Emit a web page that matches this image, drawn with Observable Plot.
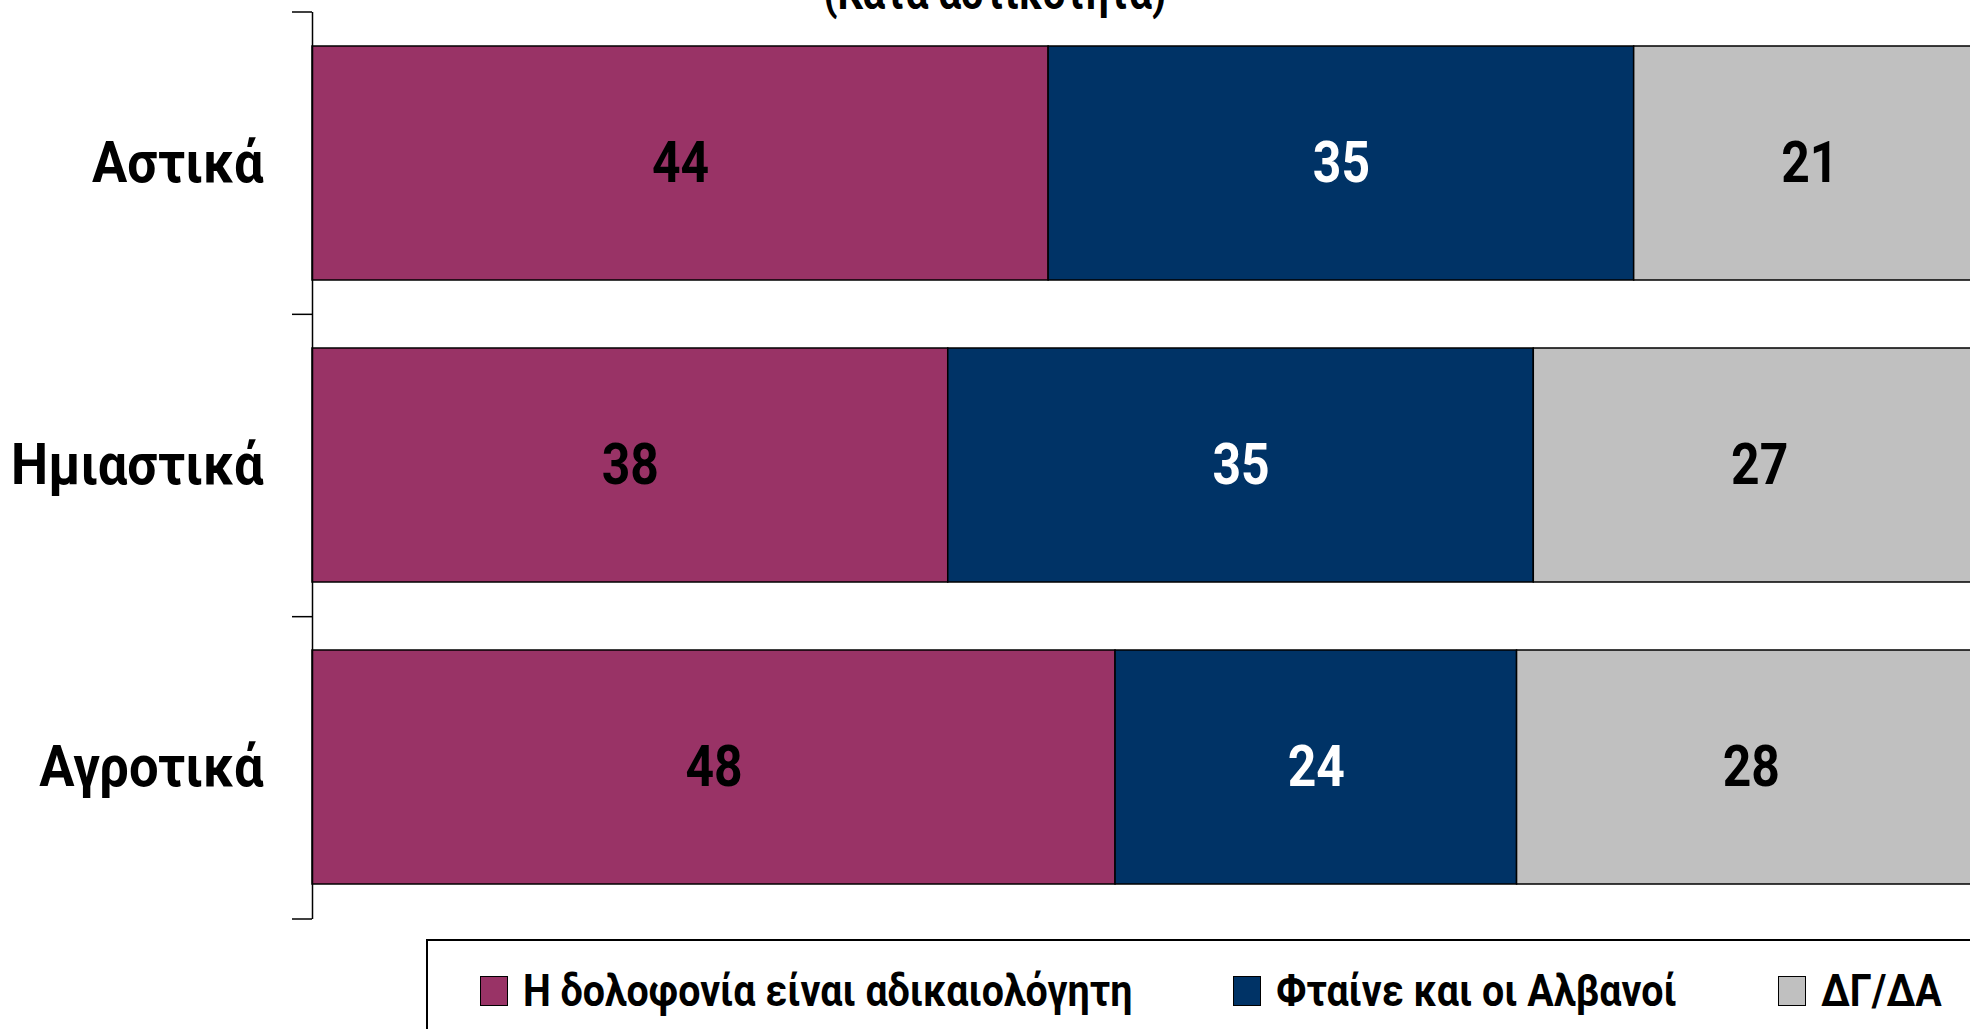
<!DOCTYPE html>
<html>
<head>
<meta charset="utf-8">
<script src="https://cdn.jsdelivr.net/npm/d3@7"></script>
<script src="https://cdn.jsdelivr.net/npm/@observablehq/plot@0.6"></script>
<style>
  html, body { margin: 0; padding: 0; background: #fff; overflow: hidden; width: 1970px; height: 1029px; }
  #wrap { position: relative; width: 1970px; height: 1029px; overflow: hidden; }
  .f { font-family: Roboto, "Liberation Sans", Arial, sans-serif; font-weight: 700; }
  #chart svg text { font-weight: 700 !important; }
  #title { position: absolute; top: -30px; left: 0; width: 1990px; text-align: center; font-size: 46px; line-height: 46px; color: #000; }
  #title span { display: inline-block; transform-origin: center; font-weight: 700; }
  #legend { position: absolute; left: 426px; top: 939px; width: 1700px; height: 160px; border: 2px solid #000; box-sizing: border-box; background: #fff; }
  #legend .items { position: absolute; left: 52px; top: 28px; display: flex; align-items: center; gap: 101px; }
  #legend .item { display: flex; align-items: center; }
  #legend .sw { width: 28px; height: 30px; border: 1.5px solid #000; box-sizing: border-box; margin-right: 15px; flex: none; }
  #legend .lbox { overflow: visible; height: 44px; position: relative; }
  #legend .lt { position: absolute; left: 0; top: 0; font-size: 44px; line-height: 44px; color: #000; white-space: nowrap; transform-origin: left center; font-weight: 700; }
</style>
</head>
<body>
<div id="wrap">
  <div id="chart"></div>
  <div id="title" class="f"><span></span></div>
  <div id="legend"><div class="items"></div></div>
</div>
<script>
const title = "(Κατά αστικότητα)";
const categories = ["Αστικά", "Ημιαστικά", "Αγροτικά"];
const series = ["Η δολοφονία είναι αδικαιολόγητη", "Φταίνε και οι Αλβανοί", "ΔΓ/ΔΑ"];
const unjustified = [44, 38, 48];
const albaniansToo = [35, 35, 24];
const dkna = [21, 27, 28];
const colors = ["#993366", "#003366", "#C0C0C0"];
const labelColors = ["#000000", "#ffffff", "#000000"];

const FONT = 'Roboto, "Liberation Sans", Arial, sans-serif';
// horizontal condensing to imitate a narrow bold face
const K_VALUES = 0.86, K_CATS = 0.905, K_LEGEND = 0.895, K_TITLE = 0.875;
const seriesValues = [unjustified, albaniansToo, dkna];
const data = series.flatMap((s, i) => categories.map((c, j) => ({category: c, series: s, si: i, value: seriesValues[i][j]})));

const chart = Plot.plot({
  width: 1970,
  height: 930,
  marginTop: 12,
  marginBottom: 11,
  marginLeft: 312,
  marginRight: 0,
  x: {domain: [0, 100], range: [312, 1985], axis: null},
  y: {domain: categories, paddingInner: 0.225, paddingOuter: 0.1125, label: null},
  color: {domain: series, range: colors},
  style: {fontFamily: FONT, fontWeight: "bold", background: "white", color: "black"},
  marks: [
    Plot.barX(data, {x: "value", y: "category", fill: "series", stroke: "black", strokeWidth: 1.5}),
    Plot.text(data, Plot.stackX({x: "value", y: "category", z: "series", text: d => String(d.value), fill: d => labelColors[d.si], fontSize: 58, fontWeight: "bold"})),
    Plot.ruleX([0], {stroke: "black", strokeWidth: 1.5}),
    Plot.axisY({tickSize: 0, tickPadding: 49, fontSize: 58, fontWeight: "bold", fill: "black"})
  ]
});
document.getElementById("chart").appendChild(chart);

// condense SVG texts around their own anchor point
function condense(sel, k) {
  chart.querySelectorAll(sel).forEach(t => {
    const x = +t.getAttribute("x") || 0, y = +t.getAttribute("y") || 0;
    const tr = t.getAttribute("transform") || "";
    t.setAttribute("transform", `${tr} translate(${x},${y}) scale(${k},1) translate(${-x},${-y})`);
    t.dataset.done = "1";
  });
}
condense('g[aria-label="y-axis tick label"] text', K_CATS);
condense('text:not([data-done])', K_VALUES);

// Boundary ticks between categories (Excel-style), from the y scale
const ys = chart.scale("y");
const xs = chart.scale("x");
const r0 = Math.min(...ys.range), r1 = Math.max(...ys.range);
const bounds = d3.range(categories.length + 1).map(i => r0 + i * (r1 - r0) / categories.length);
const x0 = xs.apply(0);
d3.select(chart).append("g").selectAll("line").data(bounds).join("line")
  .attr("x1", x0 - 20).attr("x2", x0).attr("y1", d => d).attr("y2", d => d)
  .attr("stroke", "black").attr("stroke-width", 1.5);

const ts = document.querySelector("#title span");
ts.textContent = title;
ts.style.transform = `scaleX(${K_TITLE})`;

const items = d3.select("#legend .items").selectAll(".item").data(series).join("div").attr("class", "item");
items.append("div").attr("class", "sw").style("background", (d, i) => colors[i]);
const boxes = items.append("div").attr("class", "lbox f");
boxes.append("div").attr("class", "lt").text(d => d).style("transform", `scaleX(${K_LEGEND})`);
boxes.each(function() {
  const lt = this.querySelector(".lt");
  this.style.width = (lt.offsetWidth * K_LEGEND) + "px";
});
</script>
</body>
</html>
